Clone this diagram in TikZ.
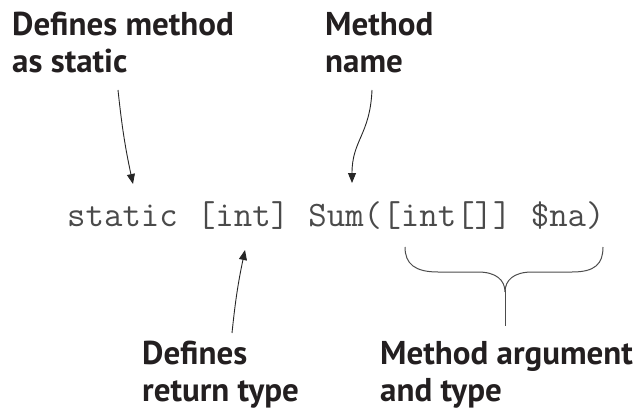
\documentclass[tikz,border=0pt]{standalone}
\usepackage{fontspec}
\usetikzlibrary{arrows.meta,positioning}
\newfontfamily\lblfont{PT Sans}
\definecolor{lblink}{HTML}{231F20}
\definecolor{codeink}{HTML}{4A4A4A}

\tikzset{
  lbl/.style={font=\lblfont\bfseries\fontsize{33}{37}\selectfont, text=lblink,
    align=left, inner sep=0pt, anchor=base west},
  code/.style={font=\ttfamily\fontsize{35.8}{38}\selectfont, text=codeink,
    inner sep=0pt, anchor=base west},
  pointer/.style={draw=black!85, line width=0.9pt, -{Triangle[length=10pt,width=8pt]}},
  brace/.style={draw=black!70, line width=1pt},
}

\begin{document}
\begin{tikzpicture}[x=1pt, y=-1pt]
  \useasboundingbox (0,0) rectangle (639,409);
  \def\sp{18.8pt}  % one space of the code font
  % labels (placed by the baseline of their last line)
  \node[lbl] (stlbl) at (12,73) {Defines method\\as static};
  \node[lbl] (nmlbl) at (325,73) {Method\\name};
  \node[lbl] (rtlbl) at (142,401) {Defines\\return type};
  \node[lbl] (arglbl) at (380,401) {Method argument\\and type};
  % the code line
  \node[code] (kw) at (67,226) {static};
  \node[code] (rtype) at ([xshift=\sp]kw.base east) {[int]};
  \node[code] (fname) at ([xshift=\sp]rtype.base east) {Sum(};
  \node[code] (argt) at (fname.base east) {[int[]]};
  \node[code] (argn) at ([xshift=\sp]argt.base east) {\$na)};
  % pointer ends
  \coordinate (st0) at (118,90);
  \coordinate (st1) at (133,184);
  \coordinate (nm0) at (372,90);
  \coordinate (nm1) at (352,183);
  \coordinate (rt0) at (232,333);
  \coordinate (rt1) at (245,250);
  % pointers
  \draw[pointer] (st0) to[bend right=3] (st1);
  \draw[pointer] (nm0) .. controls (370,135) and (352,140) .. (nm1);
  \draw[pointer] (rt0) to[bend left=3] (rt1);
  % brace under the argument
  \draw[brace] (405,247) .. controls (405,264) and (415,272) .. (438,272)
    -- (478,272) .. controls (496,272) and (505,280) .. (505,292)
    .. controls (505,280) and (514,272) .. (532,272)
    -- (572,272) .. controls (595,272) and (603,264) .. (603,247);
  \draw[brace] (505,290) -- (505,326);
\end{tikzpicture}
\end{document}
